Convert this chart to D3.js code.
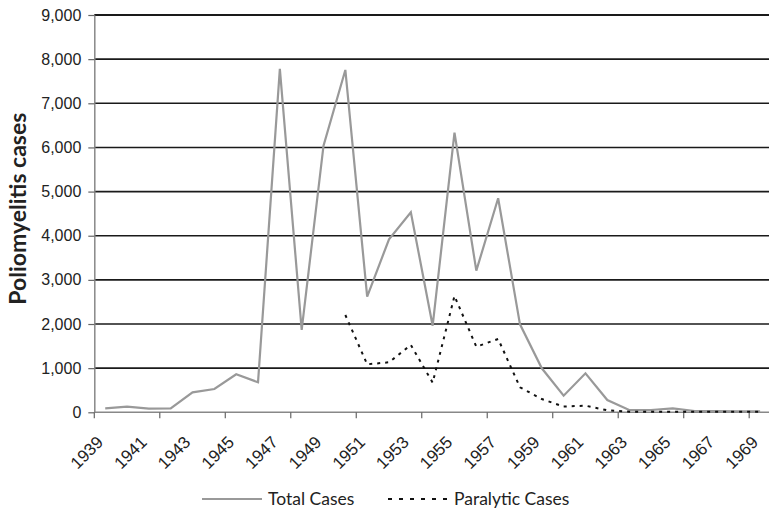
<!DOCTYPE html>
<html>
<head>
<meta charset="utf-8">
<script src="https://cdn.jsdelivr.net/npm/d3@7"></script>
<style>
	body { margin: 0; background: #fff; }
	svg { display: block; font-family: Lato, "Open Sans", sans-serif; }
	.axis text { font-size: 16px; fill: #222; }
	.x-axis text { font-size: 17px; }
</style>
</head>
<body>
<svg id="chart"></svg>
<script>
// Years shown on the category axis
const years = d3.range(1939, 1970);

// Total cases, one value per year 1939-1969
const totalCases = [90, 127, 82, 90, 453, 528, 861, 680, 7778, 1865, 6040, 7755, 2619, 3919, 4531, 1962,
	6335, 3208, 4848, 1993, 997, 376, 883, 279, 52, 52, 90, 30, 25, 22, 20];

// Paralytic cases, reported from 1950 onwards (null = no data)
const paralyticCases = [null, null, null, null, null, null, null, null, null, null, null, 2204, 1087, 1133,
	1525, 671, 2635, 1486, 1661, 566, 300, 130, 150, 45, 15, 10, 10, 10, 10, 10, 10];

// Tick labels / ticks
const yTicks = d3.range(0, 9001, 1000);
const xLabelYears = years.filter((d, i) => i % 2 === 0);
const xTickYears = years.filter((d, i) => i % 3 === 0);

const seriesNames = ['Total Cases', 'Paralytic Cases'];

class PolioChart {
	constructor(_config) {
		this.config = {
			parentElement: _config.parentElement,
			containerWidth: _config.containerWidth || 769,
			containerHeight: _config.containerHeight || 513,
			margin: _config.margin || { top: 15, right: 0, bottom: 100.7, left: 94.3 },
			bandWidth: 21.83
		};
		this.initVis();
	}

	initVis() {
		let vis = this;

		vis.height = vis.config.containerHeight - vis.config.margin.top - vis.config.margin.bottom;
		vis.width = vis.config.bandWidth * years.length;

		vis.xScale = d3.scaleBand()
			.domain(years)
			.range([0, vis.width])
			.padding(0);

		vis.yScale = d3.scaleLinear()
			.domain([0, 9000])
			.range([vis.height, 0]);

		vis.svg = d3.select(vis.config.parentElement)
			.attr('width', vis.config.containerWidth)
			.attr('height', vis.config.containerHeight);

		vis.chart = vis.svg.append('g')
			.attr('transform', `translate(${vis.config.margin.left},${vis.config.margin.top})`);

		// horizontal gridlines
		vis.chart.append('g')
			.selectAll('line')
			.data(yTicks.filter(d => d > 0))
			.join('line')
			.attr('x1', 0)
			.attr('x2', vis.config.containerWidth)
			.attr('y1', d => vis.yScale(d))
			.attr('y2', d => vis.yScale(d))
			.attr('stroke', '#1a1a1a')
			.attr('stroke-width', d => d === 9000 ? 2.2 : 1.6);

		// y axis
		vis.yAxis = d3.axisLeft(vis.yScale)
			.tickValues(yTicks)
			.tickFormat(d3.format(','))
			.tickSizeInner(6)
			.tickSizeOuter(0)
			.tickPadding(7);

		vis.yAxisGroup = vis.chart.append('g').attr('class', 'axis y-axis').call(vis.yAxis);
		vis.yAxisGroup.select('.domain').attr('stroke', '#888').attr('stroke-width', 1.5);
		vis.yAxisGroup.selectAll('.tick line').attr('stroke', '#666').attr('stroke-width', 1.2);

		// x axis: labels every other year, tick marks every third band edge
		vis.xAxis = d3.axisBottom(vis.xScale)
			.tickValues(xLabelYears)
			.tickSize(0);

		vis.xAxisGroup = vis.chart.append('g')
			.attr('class', 'axis x-axis')
			.attr('transform', `translate(0,${vis.height})`)
			.call(vis.xAxis);
		vis.xAxisGroup.select('.domain')
			.attr('d', `M0,0H${vis.config.containerWidth}`)
			.attr('stroke', '#888')
			.attr('stroke-width', 1.5);
		vis.xAxisGroup.selectAll('text')
			.style('text-anchor', 'end')
			.attr('dy', '0')
			.attr('y', 0)
			.attr('transform', 'translate(-1,31) rotate(-45)');

		vis.xAxisGroup.append('g')
			.selectAll('line')
			.data(xTickYears)
			.join('line')
			.attr('x1', d => vis.xScale(d))
			.attr('x2', d => vis.xScale(d))
			.attr('y1', 0)
			.attr('y2', 6)
			.attr('stroke', '#666')
			.attr('stroke-width', 1.2);

		// y axis title
		vis.svg.append('text')
			.attr('transform', `translate(26,${vis.config.margin.top + vis.height / 2 - 5}) rotate(-90)`)
			.style('text-anchor', 'middle')
			.style('font-size', '23px')
			.style('font-weight', 'bold')
			.style('fill', '#222')
			.text('Poliomyelitis cases');
	}

	renderVis() {
		let vis = this;
		const cx = d => vis.xScale(d) + vis.xScale.bandwidth() / 2;

		const line = d3.line()
			.defined(d => d.value !== null)
			.x(d => cx(d.year))
			.y(d => vis.yScale(d.value));

		const totalData = years.map((y, i) => ({ year: y, value: totalCases[i] }));
		const paraData = years.map((y, i) => ({ year: y, value: paralyticCases[i] }));

		vis.chart.append('path')
			.datum(totalData)
			.attr('fill', 'none')
			.attr('stroke', '#999')
			.attr('stroke-width', 2.2)
			.attr('stroke-linejoin', 'miter')
			.attr('d', line);

		vis.chart.append('path')
			.datum(paraData)
			.attr('fill', 'none')
			.attr('stroke', '#111')
			.attr('stroke-width', 2)
			.attr('stroke-dasharray', '3,5')
			.attr('d', line);

		// legend
		const legend = vis.svg.append('g').attr('class', 'legend');
		const items = [
			{ name: seriesNames[0], x: 202, stroke: '#999', dash: null },
			{ name: seriesNames[1], x: 388, stroke: '#111', dash: '4,7' }
		];
		items.forEach(item => {
			legend.append('line')
				.attr('x1', item.x)
				.attr('x2', item.x + 60)
				.attr('y1', 499)
				.attr('y2', 499)
				.attr('stroke', item.stroke)
				.attr('stroke-width', 2)
				.attr('stroke-dasharray', item.dash);
			legend.append('text')
				.attr('x', item.x + 66)
				.attr('y', 505)
				.style('font-size', '17.5px')
				.style('fill', '#222')
				.text(item.name);
		});
	}
}

const chart = new PolioChart({ parentElement: '#chart' });
chart.renderVis();
</script>
</body>
</html>
